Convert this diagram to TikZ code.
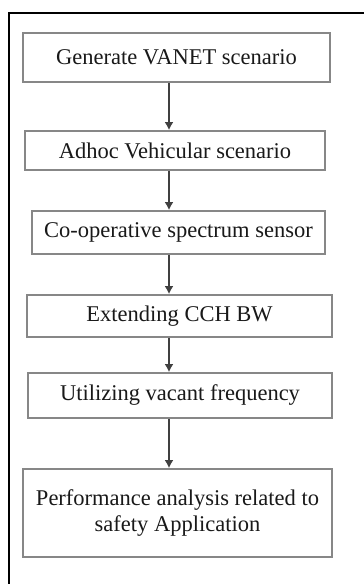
\documentclass[tikz,border=0pt]{standalone}
\usepackage{fontspec}
\setmainfont{Liberation Serif}
\usetikzlibrary{calc, arrows.meta}

\begin{document}
\begin{tikzpicture}[x=1pt, y=-1pt,
  block/.style={draw={rgb,255:red,135;green,135;blue,135}, line width=1.8pt, fill=white,
    inner sep=0pt, align=center, text=black!90,
    font=\fontsize{22.5}{27}\selectfont},
  flow/.style={-{Latex[length=8pt, width=9pt]}, line width=1.5pt, draw=black!75}]

  \useasboundingbox (0,0) rectangle (364,584);

  % Outer frame
  \draw[line width=2.2pt] (9,584) -- (9,13) -- (364,13);

  % Blocks
  \node[block, minimum width=307pt, minimum height=49pt] (gen) at (176.5,57.5) {Generate VANET scenario};
  \node[block, minimum width=300pt, minimum height=39pt] (adhoc) at (175,150.5) {Adhoc Vehicular scenario};
  \node[block, minimum width=293pt, minimum height=43pt] (coop) at (178.5,232.5) {Co-operative spectrum sensor};
  \node[block, minimum width=305pt, minimum height=42pt] (cch) at (179.5,316) {Extending CCH BW};
  \node[block, minimum width=304pt, minimum height=45pt] (vac) at (180,395.5) {Utilizing vacant frequency};
  \node[block, minimum width=309pt, minimum height=88pt] (perf) at (177.5,513) {Performance analysis related to\\safety Application};

  % Arrow line
  \coordinate (ax) at (169,0);

  % Vertical arrows
  \draw[flow] (gen.south -| ax) -- (adhoc.north -| ax);
  \draw[flow] (adhoc.south -| ax) -- (coop.north -| ax);
  \draw[flow] (coop.south -| ax) -- (cch.north -| ax);
  \draw[flow] (cch.south -| ax) -- (vac.north -| ax);
  \draw[flow] (vac.south -| ax) -- (perf.north -| ax);

\end{tikzpicture}
\end{document}
